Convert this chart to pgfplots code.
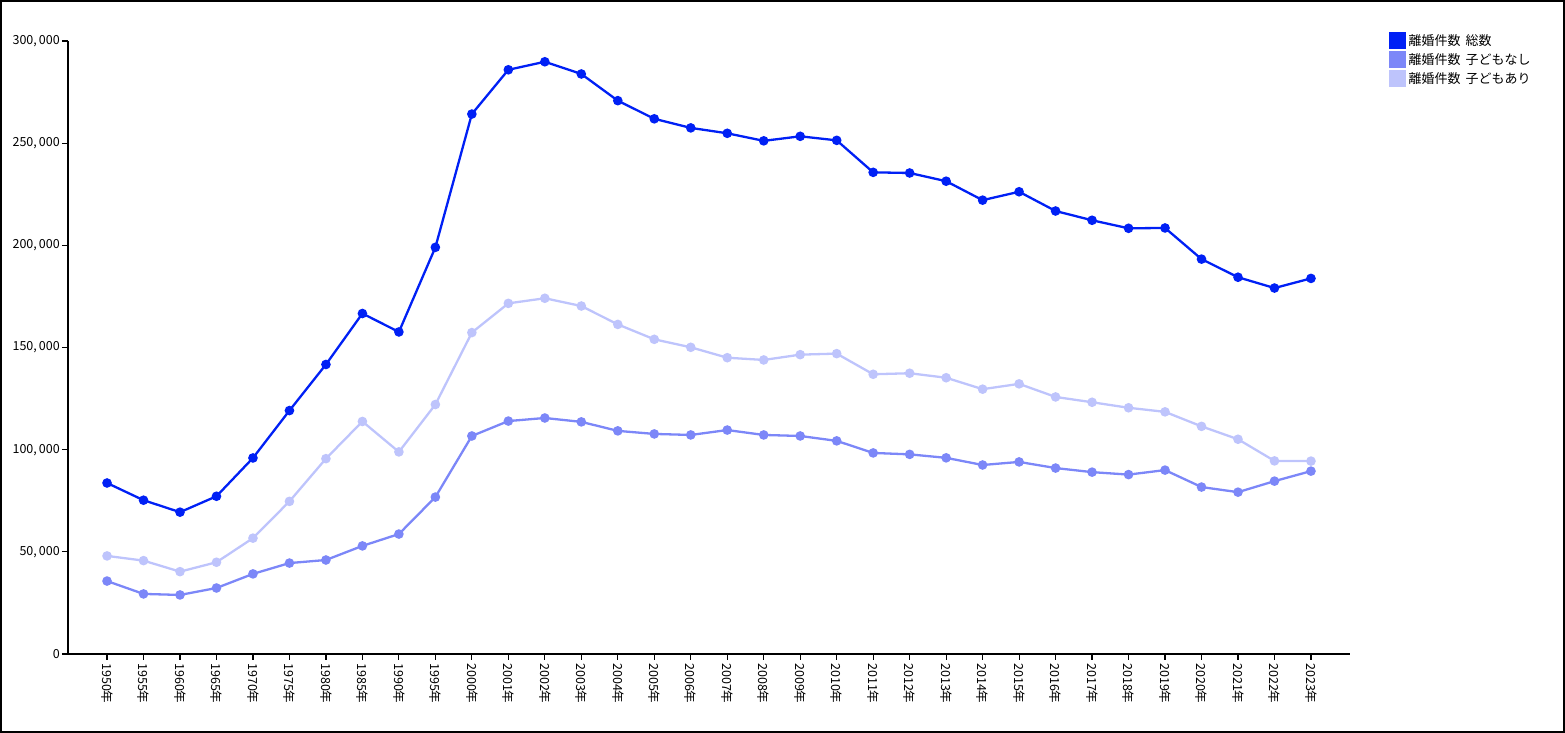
\documentclass[border=0pt]{standalone}
\usepackage{fontspec}
\setmainfont{Noto Sans CJK JP}
\usepackage{pgfplots}
\pgfplotsset{compat=1.18}
\definecolor{c1}{RGB}{0,32,245}
\definecolor{c2}{RGB}{124,135,248}
\definecolor{c3}{RGB}{190,196,252}
\begin{document}
\begin{tikzpicture}
\path[use as bounding box] (0,0) rectangle (1565pt,733pt);
\draw[line width=2pt] (1pt,1pt) rectangle (1564pt,732pt);
\begin{axis}[
  at={(68pt,79pt)}, anchor=south west,
  scale only axis, width=1282pt, height=613pt,
  xmin=-1.07, xmax=34.07, ymin=0, ymax=300000,
  axis lines*=left, axis line style={-, line width=1.4pt, black},
  tick style={black, line width=1.2pt},
  major tick length=6pt, tick align=outside,
  xtick={0,...,33},
  xticklabels={1950年,1955年,1960年,1965年,1970年,1975年,1980年,1985年,1990年,1995年,2000年,2001年,2002年,2003年,2004年,2005年,2006年,2007年,2008年,2009年,2010年,2011年,2012年,2013年,2014年,2015年,2016年,2017年,2018年,2019年,2020年,2021年,2022年,2023年},
  xticklabel style={rotate=-90, anchor=west, font=\fontsize{12.5}{14}\selectfont, inner sep=3pt},
  ytick={0,50000,100000,150000,200000,250000,300000},
  yticklabels={0,{50,\,000},{100,\,000},{150,\,000},{200,\,000},{250,\,000},{300,\,000}},
  scaled y ticks=false,
  yticklabel style={font=\fontsize{12.5}{14}\selectfont, inner sep=2pt},
  legend style={at={(1.0304,1.0147)}, anchor=north west, draw=none, fill=none,
    inner sep=0pt, row sep=1.5pt, font=\fontsize{13}{14}\selectfont,
    nodes={inner sep=2.5pt}},
  legend cell align=left,
  legend image code/.code={\fill[#1, draw=none] (0pt,-8.5pt) rectangle (17pt,8.5pt);},
  clip=false,
]
\addplot[color=c1, line width=2.3pt, mark=*, mark size=3.6pt, mark options={solid}] coordinates {
(0,83689)(1,75267)(2,69410)(3,77195)(4,95937)(5,119135)(6,141689)(7,166640)(8,157608)(9,199016)
(10,264246)(11,285911)(12,289836)(13,283854)(14,270804)(15,261917)(16,257475)(17,254832)(18,251136)(19,253353)
(20,251378)(21,235719)(22,235406)(23,231383)(24,222107)(25,226215)(26,216798)(27,212262)(28,208333)(29,208496)
(30,193253)(31,184384)(32,179099)(33,183814)};
\addplot[color=c2, line width=2.3pt, mark=*, mark size=3.6pt, mark options={solid}] coordinates {
(0,35700)(1,29400)(2,28900)(3,32300)(4,39200)(5,44500)(6,46000)(7,52900)(8,58700)(9,76800)
(10,106700)(11,114000)(12,115500)(13,113600)(14,109200)(15,107700)(16,107200)(17,109600)(18,107200)(19,106700)
(20,104300)(21,98400)(22,97700)(23,96000)(24,92500)(25,94000)(26,91000)(27,89000)(28,87800)(29,90000)
(30,81700)(31,79200)(32,84600)(33,89500)};
\addplot[color=c3, line width=2.3pt, mark=*, mark size=3.6pt, mark options={solid}] coordinates {
(0,48000)(1,45700)(2,40300)(3,44900)(4,56700)(5,74700)(6,95600)(7,113800)(8,98900)(9,122100)
(10,157300)(11,171600)(12,174100)(13,170300)(14,161300)(15,154000)(16,150100)(17,145000)(18,143900)(19,146500)
(20,147000)(21,136900)(22,137400)(23,135200)(24,129600)(25,132200)(26,125800)(27,123200)(28,120500)(29,118500)
(30,111400)(31,105100)(32,94500)(33,94400)};
\legend{離婚件数\hspace{5pt}総数, 離婚件数\hspace{5pt}子どもなし, 離婚件数\hspace{5pt}子どもあり}
\end{axis}
\end{tikzpicture}
\end{document}
